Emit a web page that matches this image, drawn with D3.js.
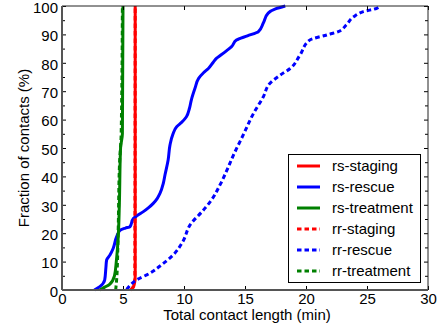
<!DOCTYPE html>
<html><head><meta charset="utf-8">
<script src="https://cdn.jsdelivr.net/npm/d3@7"></script>
<style>body{margin:0;background:#fff}svg{display:block;font-family:"Liberation Sans",Arial,sans-serif}</style>
</head><body><svg id="c" width="442" height="330"></svg>
<script>
const seriesNames = ["rs-staging","rs-rescue","rs-treatment","rr-staging","rr-rescue","rr-treatment"];
const seriesColors = ["#ff0000","#0000ff","#008000","#ff0000","#0000ff","#008000"];
const seriesDashed = [false,false,false,true,true,true];
const rsStaging = [[5.6,0],[5.85,1],[5.95,2.5],[6.0,5],[6.0,100]];
const rsRescue = [[2.65,0],[3.1,1.2],[3.5,3.5],[3.6,8],[3.66,10.6],[3.93,12.3],[4.2,14.7],[4.48,18.8],[4.75,21],[5.2,21.8],[5.57,22.3],[5.85,25.2],[6.2,26.3],[6.67,27.6],[7.1,29],[7.48,30.5],[7.8,32.2],[8.03,34],[8.3,37.5],[8.44,40.5],[8.7,45.8],[8.85,51],[9.1,55],[9.4,57.5],[9.8,59],[10.2,61],[10.45,64],[10.6,66.9],[10.9,71],[11.2,74.5],[11.6,76.5],[12.0,78],[12.4,80.2],[12.7,81.7],[12.95,82.5],[13.5,84.3],[13.9,85.7],[14.3,88],[15.2,89.5],[16.1,91],[16.5,94],[16.9,97.5],[17.5,99],[18.3,100]];
const rsTreatment = [[3.1,0],[3.5,1],[3.9,2],[4.3,5],[4.45,10],[4.6,18],[4.7,30],[4.8,50],[4.95,55],[5.0,100]];
const rrStaging = [[5.7,0],[5.9,2],[5.97,4],[6.0,100]];
const rrRescue = [[5.3,0.2],[6.1,3.5],[7.2,5.9],[8.2,9],[9.1,12.3],[9.9,17],[10.5,22.9],[11.6,28.2],[12.3,32],[12.95,37],[13.5,42],[14.0,47],[14.9,55],[15.7,62.2],[16.5,68],[17.05,72.8],[17.9,75.7],[18.7,78],[19.5,82.7],[20.3,88],[21.7,89.8],[22.65,91],[23.3,93.3],[23.9,96.2],[24.7,98],[25.8,99.2],[26.1,100]];
const rrTreatment = [[4.4,0],[4.5,5],[4.6,20],[4.72,45],[4.85,55],[4.95,100]];
const seriesData = [rsStaging,rsRescue,rsTreatment,rrStaging,rrRescue,rrTreatment];
const xTicks = [0,5,10,15,20,25,30];
const yTicks = [0,10,20,30,40,50,60,70,80,90,100];
const yMinorTicks = [5,15,25,35,45,55,65,75,85,95];
const xLabel = "Total contact length (min)";
const yLabel = "Fraction of contacts (%)";

const svg = d3.select("#c");
const L=62,R=428,T=6,B=290;
const x = d3.scaleLinear().domain([0,30]).range([L,R]);
const y = d3.scaleLinear().domain([0,100]).range([B,T]);

const g = svg.append("g");
const line = d3.line().x(d=>x(d[0])).y(d=>y(d[1])).curve(d3.curveMonotoneY);
seriesData.forEach((d,i)=>{
  g.append("path").attr("d",line(d)).attr("fill","none")
   .attr("stroke",seriesColors[i]).attr("stroke-width",3)
   .attr("stroke-linejoin","round")
   .attr("stroke-dasharray",seriesDashed[i]?"4.5,3":null);
});

const ax = svg.append("g");
const axBottom = d3.axisBottom(x).tickValues(xTicks).tickSize(-4).tickPadding(3).tickFormat(d3.format("d"));
const axTop = d3.axisTop(x).tickValues(xTicks).tickSize(-4).tickFormat("");
const axLeft = d3.axisLeft(y).tickValues(yTicks).tickSize(-4).tickPadding(4).tickFormat(d3.format("d"));
const axRight = d3.axisRight(y).tickValues(yTicks).tickSize(-4).tickFormat("");
const axLeftMinor = d3.axisLeft(y).tickValues(yMinorTicks).tickSize(-3).tickFormat("");
const axRightMinor = d3.axisRight(y).tickValues(yMinorTicks).tickSize(-3).tickFormat("");
function style(sel){sel.select(".domain").remove();sel.selectAll("line").attr("stroke","#000");sel.selectAll("text").attr("font-size",15).attr("font-family","Liberation Sans, Arial, sans-serif").attr("fill","#000");}
ax.append("g").attr("transform",`translate(0,${B})`).call(axBottom).call(style);
ax.append("g").attr("transform",`translate(0,${T})`).call(axTop).call(style);
const gl = ax.append("g").attr("transform",`translate(${L},0)`).call(axLeft).call(style);
gl.selectAll("text").attr("dy","0.42em");
ax.append("g").attr("transform",`translate(${R},0)`).call(axRight).call(style);
ax.append("g").attr("transform",`translate(${L},0)`).call(axLeftMinor).call(style);
ax.append("g").attr("transform",`translate(${R},0)`).call(axRightMinor).call(style);
svg.append("line").attr("x1",L).attr("x2",R).attr("y1",T).attr("y2",T).attr("stroke","#222").attr("stroke-width",1);
svg.append("line").attr("x1",R).attr("x2",R).attr("y1",T).attr("y2",B).attr("stroke","#222").attr("stroke-width",1);
svg.append("line").attr("x1",L).attr("x2",R).attr("y1",B).attr("y2",B).attr("stroke","#555").attr("stroke-width",2);
svg.append("line").attr("x1",L).attr("x2",L).attr("y1",T).attr("y2",B).attr("stroke","#555").attr("stroke-width",2);

svg.append("text").attr("x",(L+R)/2+2).attr("y",320).attr("text-anchor","middle").attr("font-size",15).text(xLabel);
svg.append("text").attr("transform",`translate(29,${(T+B)/2}) rotate(-90)`).attr("text-anchor","middle").attr("font-size",15).text(yLabel);

const lg = svg.append("g");
lg.append("rect").attr("x",288.5).attr("y",154.5).attr("width",132).attr("height",128).attr("fill","#fff").attr("stroke","#000").attr("stroke-width",1);
seriesNames.forEach((n,i)=>{
  const yy = 166+i*21;
  lg.append("line").attr("x1",297).attr("x2",320).attr("y1",yy).attr("y2",yy)
    .attr("stroke",seriesColors[i]).attr("stroke-width",3)
    .attr("stroke-dasharray",seriesDashed[i]?"4.5,3":null);
  lg.append("text").attr("x",332).attr("y",yy+5).attr("font-size",15).text(n);
});
</script></body></html>
